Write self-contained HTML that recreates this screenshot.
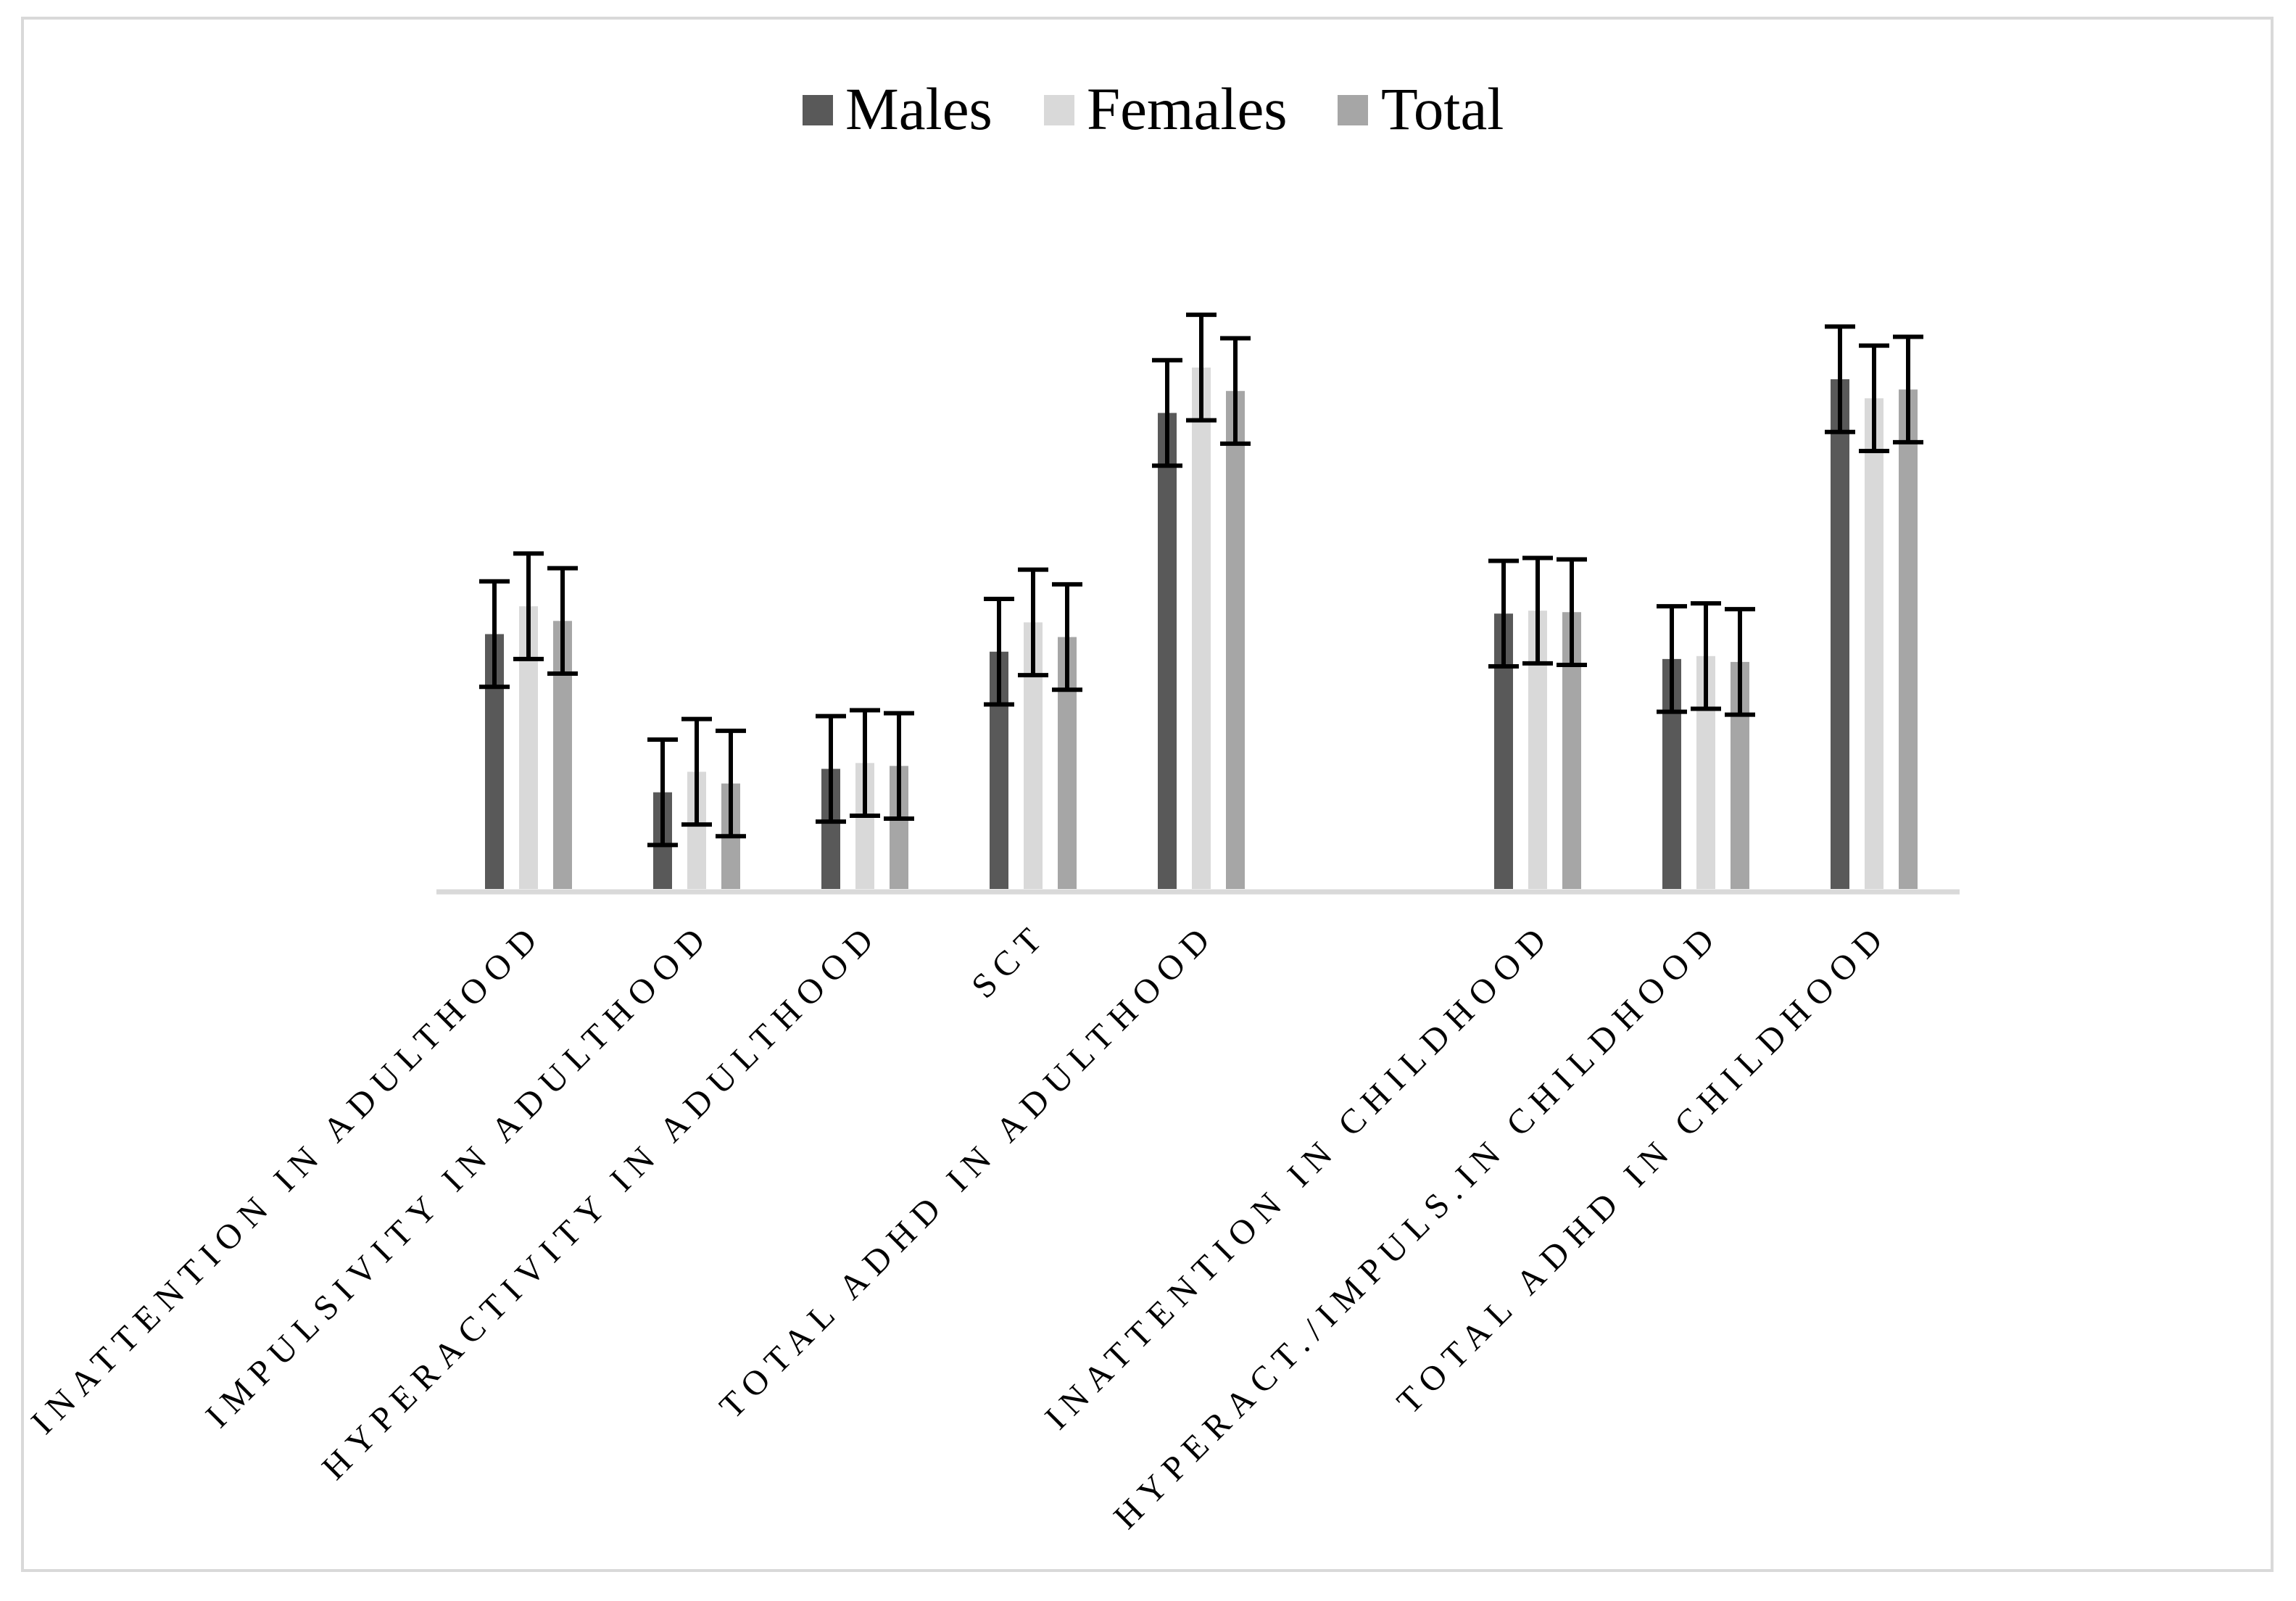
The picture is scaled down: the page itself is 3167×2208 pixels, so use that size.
<!DOCTYPE html>
<html><head><meta charset="utf-8"><style>
html,body{margin:0;padding:0;background:#fff;}
svg{display:block;}
</style></head><body>
<svg id="chart" width="3167" height="2208" viewBox="0 0 3167 2208" xmlns="http://www.w3.org/2000/svg">
<rect x="31" y="25" width="3103" height="2141" fill="#fff" stroke="#d9d9d9" stroke-width="4"/>
<g id="legend" font-family="Liberation Serif, serif" font-size="83" fill="#000">
<g><rect x="1107" y="131" width="42" height="42" fill="#595959"/><text x="1166" y="178">Males</text></g>
<g><rect x="1440" y="131" width="42" height="42" fill="#d9d9d9"/><text x="1499" y="178">Females</text></g>
<g><rect x="1845" y="131" width="42" height="42" fill="#a6a6a6"/><text x="1905" y="178">Total</text></g>
</g>
<g id="bars"></g>
<g id="errs"></g>
<line x1="602" y1="1230" x2="2703" y2="1230" stroke="#d9d9d9" stroke-width="7"/>
<g id="labels"></g>
</svg>
<script>
const categories = ["INATTENTION IN ADULTHOOD","IMPULSIVITY IN ADULTHOOD","HYPERACTIVITY IN ADULTHOOD","SCT","TOTAL ADHD IN ADULTHOOD","","INATTENTION IN CHILDHOOD","HYPERACT./IMPULS.IN CHILDHOOD","TOTAL ADHD IN CHILDHOOD"];
const males   = [17.4, 6.6, 8.2, 16.2, 32.5, null, 18.8, 15.7, 34.8];
const females = [19.3, 8.0, 8.6, 18.2, 35.6, null, 19.0, 15.9, 33.5];
const total   = [18.3, 7.2, 8.4, 17.2, 34.0, null, 18.9, 15.5, 34.1];
const malesErr   = [3.6, 3.6, 3.6, 3.6, 3.6, null, 3.6, 3.6, 3.6];
const femalesErr = [3.6, 3.6, 3.6, 3.6, 3.6, null, 3.6, 3.6, 3.6];
const totalErr   = [3.6, 3.6, 3.6, 3.6, 3.6, null, 3.6, 3.6, 3.6];

const NS = "http://www.w3.org/2000/svg";
const firstCenter = 729, slot = 232, yBase = 1226, unit = 20.2;
function xCenter(i){ return firstCenter + slot * i; }
function yScale(v){ return yBase - v * unit; }
const series = [
  {name:"males", vals:males, errs:malesErr, color:"#595959", off:-47},
  {name:"females", vals:females, errs:femalesErr, color:"#d9d9d9", off:0},
  {name:"total", vals:total, errs:totalErr, color:"#a6a6a6", off:47}
];
const barsG = document.getElementById("bars");
const errsG = document.getElementById("errs");
const labG = document.getElementById("labels");
function mk(tag, attrs){ const e = document.createElementNS(NS, tag); for (const k in attrs) e.setAttribute(k, attrs[k]); return e; }
const bw = 26, cap = 34;
series.forEach(s => {
  s.vals.forEach((v, i) => {
    if (v === null) return;
    const cx = xCenter(i) + s.off;
    const r = mk("rect", {x: cx - bw/2, y: yScale(v), width: bw, height: yBase - yScale(v), fill: s.color});
    
    
    barsG.appendChild(r);
    const e = s.errs[i];
    const g = mk("g", {stroke: "#000", "stroke-width": 6});
    
    
    const yt = yScale(v + e), yb = yScale(v - e);
    g.appendChild(mk("line", {x1: cx, y1: yt, x2: cx, y2: yb}));
    g.appendChild(mk("line", {x1: cx - cap/2 - 4, y1: yt, x2: cx + cap/2 + 4, y2: yt}));
    g.appendChild(mk("line", {x1: cx - cap/2 - 4, y1: yb, x2: cx + cap/2 + 4, y2: yb}));
    errsG.appendChild(g);
  });
});
const ls = 12;
categories.forEach((c, i) => {
  if (!c) return;
  const ax = xCenter(i) + 14 + ls * 0.707, ay = 1300 - ls * 0.707;
  const t = mk("text", {x: ax, y: ay, "text-anchor": "end", transform: "rotate(-45 " + ax + " " + ay + ")",
    "font-family": "Liberation Serif, serif", "font-size": 48, "letter-spacing": ls, fill: "#000"});
  
  
  t.textContent = c;
  labG.appendChild(t);
});
</script>
</body></html>
